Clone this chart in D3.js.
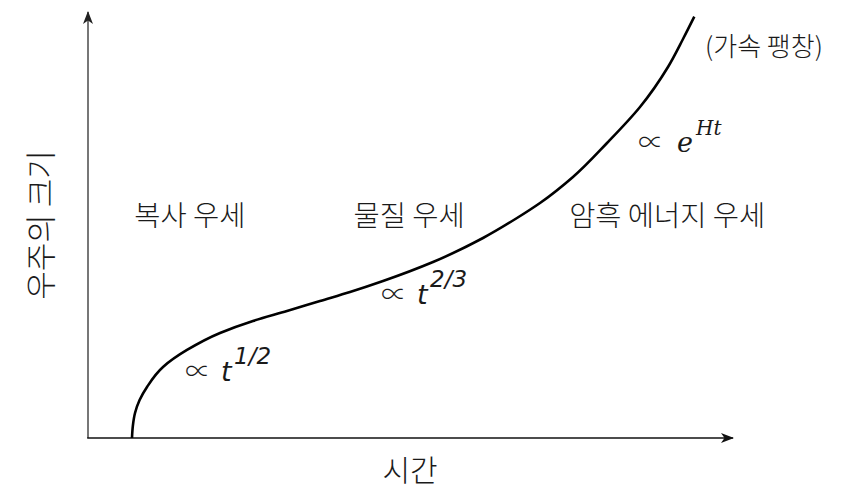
<!DOCTYPE html>
<html>
<head>
<meta charset="utf-8">
<script src="https://cdn.jsdelivr.net/npm/d3@7"></script>
<style>
  body { margin: 0; background: #fff; }
  text { fill: #1a1a1a; }
</style>
</head>
<body>
<div id="chart"></div>
<script>
const width = 858,
  height = 495;

// curve: time (0-100) vs size (0-100)
const times = [6.82, 6.95, 7.29, 8.0, 9.15, 11.63, 15.35, 20.47, 25.58, 30.85, 35.97, 40.62, 45.74, 53.49, 61.24, 66.51, 70.08, 75.19, 80.47, 85.58, 89.92, 92.25, 94.0];
const sizes = [0, 2.8, 5.87, 8.92, 11.97, 16.67, 20.66, 24.65, 27.46, 29.81, 32.16, 34.27, 36.85, 41.31, 46.95, 51.64, 55.16, 61.27, 69.25, 77.70, 87.09, 93.66, 98.9];

const eraNames = ["복사 우세", "물질 우세", "암흑 에너지 우세"];
const eraPos = [15.8, 49.8, 89.8];

const font = "'Noto Sans CJK KR', sans-serif";

const svg = d3.select("#chart")
  .append("svg")
  .attr("width", width)
  .attr("height", height);

const x = d3.scaleLinear().domain([0, 100]).range([88, 733]);
const y = d3.scaleLinear().domain([0, 100]).range([438, 12]);

// arrow heads
const defs = svg.append("defs");
const arrow = (id, color) => defs.append("marker")
  .attr("id", id)
  .attr("viewBox", "0 0 13 10")
  .attr("refX", 12)
  .attr("refY", 5)
  .attr("markerWidth", 13)
  .attr("markerHeight", 10)
  .attr("markerUnits", "userSpaceOnUse")
  .attr("orient", "auto")
  .append("path")
  .attr("d", "M0,0 L13,5 L0,10 L3.5,5 Z")
  .attr("fill", color);
arrow("ax", "#111");
arrow("ay", "#222");

svg.append("line")
  .attr("x1", x(0)).attr("y1", y(0))
  .attr("x2", x(0)).attr("y2", y(100))
  .attr("stroke", "#555")
  .attr("stroke-width", 1.6)
  .attr("marker-end", "url(#ay)");

svg.append("line")
  .attr("x1", x(0) - 0.8).attr("y1", y(0))
  .attr("x2", x(100)).attr("y2", y(0))
  .attr("stroke", "#111")
  .attr("stroke-width", 1.6)
  .attr("marker-end", "url(#ax)");

const line = d3.line()
  .x((d, i) => x(times[i]))
  .y(d => y(d))
  .curve(d3.curveMonotoneY);

svg.append("path")
  .datum(sizes)
  .attr("fill", "none")
  .attr("stroke", "#000")
  .attr("stroke-width", 2.6)
  .attr("d", line);

// era labels
svg.append("g")
  .selectAll("text")
  .data(eraNames)
  .join("text")
  .attr("x", (d, i) => x(eraPos[i]))
  .attr("y", 226)
  .attr("text-anchor", "middle")
  .attr("font-family", font)
  .attr("font-weight", 300)
  .attr("font-size", 28.5)
  .text(d => d);

svg.append("text")
  .attr("x", 764)
  .attr("y", 56)
  .attr("text-anchor", "middle")
  .attr("font-family", font)
  .attr("font-weight", 300)
  .attr("font-size", 26)
  .text("(가속 팽창)");

// axis titles
svg.append("text")
  .attr("x", 410)
  .attr("y", 481)
  .attr("text-anchor", "middle")
  .attr("font-family", font)
  .attr("font-weight", 300)
  .attr("font-size", 30)
  .text("시간");

svg.append("text")
  .attr("transform", "translate(52,225) rotate(-90)")
  .attr("text-anchor", "middle")
  .attr("font-family", font)
  .attr("font-weight", 300)
  .attr("font-size", 31)
  .text("우주의 크기");

// scaling laws
const laws = [
  { px: 186, py: 381, base: "t", sup: "1/2", serif: false },
  { px: 382, py: 304, base: "t", sup: "2/3", serif: false },
  { px: 639, py: 152, base: "e", sup: "Ht", serif: true }
];

laws.forEach(l => {
  const g = svg.append("g");
  const fam = l.serif ? "'DejaVu Serif', serif" : "'DejaVu Sans', sans-serif";
  g.append("text")
    .attr("x", l.px + 12)
    .attr("y", l.py - 1.5)
    .attr("text-anchor", "middle")
    .attr("font-family", font)
    .attr("font-weight", 300)
    .attr("font-size", 25.5)
    .attr("fill", "#333")
    .text("\u221D");
  g.append("text")
    .attr("x", l.px + (l.serif ? 38 : 35))
    .attr("y", l.py)
    .attr("font-family", fam)
    .attr("font-style", "italic")
    .attr("font-size", 27)
    .text(l.base);
  g.append("text")
    .attr("x", l.px + (l.serif ? 57 : 48))
    .attr("y", l.py - 17)
    .attr("font-family", fam)
    .attr("font-style", "italic")
    .attr("font-size", l.serif ? 20 : 23)
    .text(l.sup);
});
</script>
</body>
</html>
